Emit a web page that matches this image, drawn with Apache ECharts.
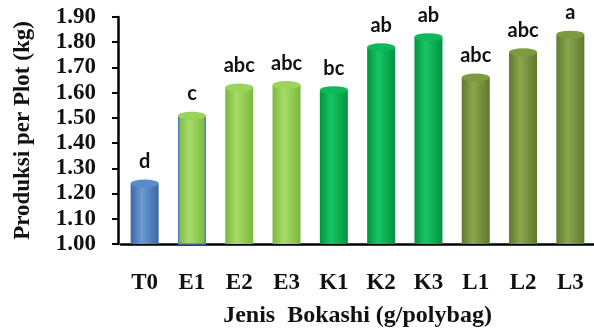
<!DOCTYPE html>
<html>
<head>
	<meta charset="utf-8">
	<title>Produksi per Plot</title>
	<script src="https://cdn.jsdelivr.net/npm/echarts@6/dist/echarts.min.js"></script>
</head>
<body style="margin:0">
<div id="chart" style="width:594px;height:328px"></div>
<script>
	const categories = ['T0', 'E1', 'E2', 'E3', 'K1', 'K2', 'K3', 'L1', 'L2', 'L3'];
	const values = [1.24, 1.51, 1.62, 1.63, 1.61, 1.78, 1.82, 1.66, 1.76, 1.83];
	const letters = ['d', 'c', 'abc', 'abc', 'bc', 'ab', 'ab', 'abc', 'abc', 'a'];

	// dark edge / light middle / top cap, per treatment group (first letter)
	const groupColors = {
		T: ['#3a68a6', '#6b9ad4', '#5a8cc8'],
		E: ['#7bb83c', '#a8dc6a', '#9ad458'],
		K: ['#00943f', '#19c466', '#0cb85a'],
		L: ['#5f7a2c', '#8aa64e', '#7c9a40']
	};

	function cylinder(c) {
		return {
			type: 'linear', x: 0, y: 0, x2: 1, y2: 0,
			colorStops: [
				{offset: 0, color: c[0]},
				{offset: 0.4, color: c[1]},
				{offset: 1, color: c[0]}
			]
		};
	}

	const serif = 'Liberation Serif';

	function styled(i, color) {
		const item = {value: values[i], itemStyle: {color: color}};
		if (categories[i] === 'E1') {
			item.itemStyle.borderColor = '#4f81bd';
			item.itemStyle.borderWidth = 1.5;
		}
		return item;
	}

	const barData = values.map((v, i) => styled(i, cylinder(groupColors[categories[i][0]])));
	const capData = values.map((v, i) => styled(i, groupColors[categories[i][0]][2]));

	const chart = echarts.init(document.getElementById('chart'));
	chart.setOption({
		animation: false,
		grid: {left: 121, right: 0, top: 17, bottom: 84, outerBoundsMode: 'none'},
		xAxis: {
			type: 'category',
			data: categories,
			name: 'Jenis  Bokashi (g/polybag)',
			nameLocation: 'middle',
			nameGap: 60,
			nameTextStyle: {fontFamily: serif, fontWeight: 'bold', fontSize: 24, color: '#111'},
			axisLine: {lineStyle: {color: '#000', width: 2.5}},
			axisTick: {show: false},
			axisLabel: {fontFamily: serif, fontWeight: 'bold', fontSize: 23, color: '#111', margin: 28}
		},
		yAxis: {
			type: 'value',
			min: 1,
			max: 1.9,
			interval: 0.1,
			offset: 3,
			name: 'Produksi per Plot (kg)',
			nameLocation: 'middle',
			nameGap: 83,
			nameTextStyle: {fontFamily: serif, fontWeight: 'bold', fontSize: 23, color: '#111'},
			axisLine: {show: true, lineStyle: {color: '#000', width: 2.5}},
			axisTick: {show: true, length: 6, lineStyle: {color: '#000', width: 2}},
			splitLine: {show: false},
			axisLabel: {
				fontFamily: serif, fontWeight: 'bold', fontSize: 23, color: '#111', margin: 22,
				formatter: v => v.toFixed(2)
			}
		},
		series: [
			{
				type: 'bar',
				barWidth: 28,
				data: barData,
				z: 2,
				label: {
					show: true,
					position: 'top',
					distance: 12,
					fontFamily: 'Lato',
					fontWeight: 'bold',
					fontSize: 20,
					color: '#111',
					formatter: p => letters[p.dataIndex]
				}
			},
			{
				type: 'pictorialBar',
				symbol: 'circle',
				symbolSize: [28, 8],
				symbolPosition: 'end',
				symbolOffset: [0, '-50%'],
				data: capData,
				z: 3
			}
		]
	});
</script>
</body>
</html>
